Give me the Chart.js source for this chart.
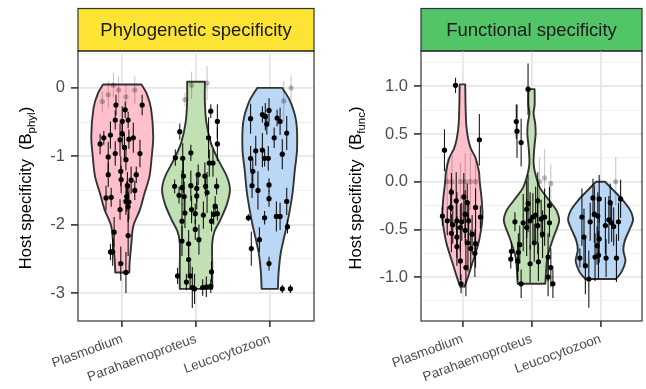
<!DOCTYPE html>
<html>
<head>
<meta charset="utf-8">
<script src="https://cdn.jsdelivr.net/npm/chart.js@4.4.1/dist/chart.umd.min.js"></script>
<style>
  html, body { margin: 0; padding: 0; background: #fff; }
  #wrap { position: relative; width: 646px; height: 389px; }
  #wrap canvas { position: absolute; top: 0; }
</style>
</head>
<body>
<div id="wrap">
  <canvas id="phyl" width="323" height="389" style="left:0"></canvas>
  <canvas id="func" width="323" height="389" style="left:323px"></canvas>
</div>
<script>
const categories = ["Plasmodium", "Parahaemoproteus", "Leucocytozoon"];

// y ticks (major get a label, minor only a grid line)
const phylMajor = [0, -1, -2, -3];
const phylMinor = [0.5, -0.5, -1.5, -2.5];
const funcMajor = [1, 0.5, 0, -0.5, -1];
const funcMinor = [1.25, 0.75, 0.25, -0.25, -0.75, -1.25];

// violin outlines: [y, half width]
const phylPlasViolin = [[0.05,0.26],[-0.08,0.33],[-0.3,0.39],[-0.71,0.42],[-1.0,0.40],[-1.29,0.37],[-1.55,0.30],[-1.78,0.24],[-2.02,0.15],[-2.32,0.12],[-2.55,0.10],[-2.70,0.095]];
const phylParaViolin = [[0.09,0.12],[-0.2,0.12],[-0.5,0.14],[-0.8,0.2],[-1.05,0.30],[-1.3,0.42],[-1.49,0.46],[-1.7,0.42],[-1.93,0.33],[-2.1,0.25],[-2.27,0.22],[-2.6,0.22],[-2.94,0.22]];
const phylLeucViolin = [[0.0,0.17],[-0.2,0.28],[-0.5,0.36],[-0.9,0.37],[-1.2,0.34],[-1.53,0.31],[-1.8,0.27],[-2.02,0.23],[-2.41,0.15],[-2.7,0.12],[-2.94,0.11]];
const funcPlasViolin = [[1.02,0.04],[0.8,0.045],[0.6,0.055],[0.46,0.08],[0.35,0.12],[0.25,0.19],[0.1,0.24],[0.0,0.25],[-0.2,0.28],[-0.37,0.29],[-0.5,0.27],[-0.65,0.23],[-0.86,0.14],[-1.0,0.08],[-1.1,0.03]];
const funcParaViolin = [[0.97,0.045],[0.8,0.045],[0.72,0.03],[0.6,0.055],[0.5,0.06],[0.35,0.04],[0.2,0.03],[0.1,0.05],[-0.06,0.12],[-0.2,0.26],[-0.3,0.36],[-0.41,0.40],[-0.58,0.32],[-0.79,0.23],[-0.95,0.21],[-1.07,0.20]];
const funcLeucViolin = [[0.0,0.065],[-0.1,0.2],[-0.2,0.33],[-0.3,0.43],[-0.4,0.47],[-0.5,0.42],[-0.62,0.35],[-0.72,0.33],[-0.83,0.36],[-0.95,0.30],[-1.02,0.22]];

// points: [jitter, estimate, error half-length]
const phylPlasFaded = [[-0.27,-0.20,0.15],[-0.19,-0.10,0.2],[-0.05,-0.03,0.2],[0.05,-0.13,0.18],[0.17,-0.03,0.2],[-0.12,0.04,0.18]];
const phylPlasPts = [[-0.085,-0.25,0.15],[0.04,-0.32,0.12],[0.27,-0.25,0.15],[-0.095,-0.47,0.14],[0.0,-0.49,0.22],[0.08,-0.47,0.12],[-0.16,-0.69,0.2],[-0.25,-0.73,0.1],[-0.30,-0.82,0.15],[-0.03,-0.76,0.24],[0.0,-0.67,0.18],[0.09,-0.75,0.14],[0.15,-0.73,0.22],[0.03,-0.87,0.2],[0.24,-0.96,0.2],[-0.19,-1.01,0.22],[-0.095,-0.96,0.18],[0.05,-1.05,0.16],[-0.02,-1.22,0.22],[-0.19,-1.27,0.18],[-0.015,-1.34,0.2],[0.19,-1.27,0.12],[0.12,-1.35,0.2],[0.07,-1.43,0.2],[0.17,-1.50,0.14],[-0.15,-1.60,0.14],[-0.22,-1.61,0.18],[0.06,-1.59,0.22],[0.09,-1.67,0.25],[0.05,-1.66,0.2],[-0.03,-1.78,0.15],[0.08,-1.74,0.22],[-0.11,-2.11,0.22],[0.08,-2.16,0.3],[-0.16,-2.40,0.12],[-0.13,-2.40,0.2],[-0.02,-2.57,0.25],[0.05,-2.70,0.3]];
const phylParaFaded = [[-0.15,-0.17,0.1],[-0.06,0.04,0.2],[0.15,0.07,0.25]];
const phylParaPts = [[0.20,-0.34,0.1],[0.29,-0.49,0.25],[-0.22,-0.64,0.12],[0.17,-0.73,0.3],[0.29,-0.82,0.25],[-0.07,-0.95,0.12],[-0.28,-1.02,0.12],[-0.18,-1.03,0.22],[0.18,-1.10,0.2],[0.23,-1.10,0.2],[-0.17,-1.29,0.25],[0.03,-1.27,0.15],[0.12,-1.29,0.2],[-0.29,-1.44,0.1],[-0.19,-1.46,0.25],[-0.07,-1.43,0.22],[0.01,-1.47,0.2],[0.13,-1.44,0.15],[0.28,-1.44,0.12],[-0.23,-1.57,0.12],[-0.16,-1.59,0.22],[0.01,-1.58,0.2],[0.15,-1.53,0.3],[0.26,-1.73,0.15],[-0.15,-1.83,0.22],[-0.06,-1.78,0.2],[-0.01,-1.84,0.15],[0.10,-1.86,0.2],[0.24,-1.85,0.15],[0.29,-1.84,0.1],[-0.19,-1.95,0.25],[0.21,-1.95,0.15],[-0.01,-2.07,0.15],[0.04,-2.22,0.22],[-0.19,-2.24,0.22],[-0.10,-2.28,0.2],[-0.10,-2.51,0.22],[-0.25,-2.75,0.12],[-0.08,-2.75,0.2],[0.21,-2.69,0.15],[-0.13,-2.84,0.12],[-0.05,-2.92,0.3],[-0.02,-2.94,0.22],[0.09,-2.92,0.12],[0.14,-2.91,0.15],[0.20,-2.90,0.1]];
const phylLeucFaded = [[0.29,0.0,0.18],[0.19,-0.19,0.3]];
const phylLeucPts = [[-0.26,-0.45,0.22],[-0.10,-0.39,0.12],[-0.06,-0.42,0.2],[-0.01,-0.33,0.18],[-0.04,-0.53,0.15],[0.10,-0.44,0.12],[0.14,-0.49,0.2],[0.23,-0.66,0.25],[0.06,-0.73,0.15],[-0.19,-0.92,0.22],[-0.10,-0.91,0.25],[-0.26,-1.03,0.18],[-0.07,-1.03,0.12],[-0.02,-1.03,0.18],[0.17,-0.97,0.22],[-0.23,-1.22,0.18],[-0.24,-1.43,0.18],[-0.16,-1.50,0.28],[-0.01,-1.42,0.1],[-0.01,-1.62,0.12],[0.23,-1.66,0.2],[-0.29,-1.90,0.05],[-0.07,-1.90,0.1],[0.09,-1.88,0.22],[0.14,-1.88,0.2],[0.24,-2.03,0.1],[-0.14,-2.22,0.18],[-0.25,-2.35,0.25],[-0.01,-2.57,0.1],[0.17,-2.94,0.06],[0.28,-2.94,0.06]];

const funcPlasFaded = [[-0.22,0.0,0.25],[-0.15,0.0,0.28],[-0.03,0.0,0.2],[0.04,0.0,0.3],[0.115,0.0,0.3],[0.19,0.0,0.22]];
const funcPlasPts = [[-0.10,1.01,0.08],[-0.26,0.33,0.22],[0.245,0.44,0.27],[-0.16,-0.11,0.2],[0.02,-0.16,0.25],[-0.09,-0.20,0.3],[0.07,-0.22,0.2],[-0.17,-0.27,0.2],[0.19,-0.27,0.2],[0.04,-0.34,0.25],[-0.29,-0.36,0.1],[0.26,-0.37,0.12],[-0.22,-0.41,0.15],[-0.08,-0.41,0.3],[-0.01,-0.42,0.2],[0.09,-0.41,0.2],[-0.14,-0.45,0.2],[-0.03,-0.48,0.25],[0.04,-0.51,0.15],[-0.16,-0.54,0.2],[0.14,-0.55,0.2],[-0.08,-0.58,0.22],[0.08,-0.64,0.3],[0.19,-0.65,0.25],[-0.08,-0.68,0.2],[0.12,-0.70,0.2],[0.18,-0.75,0.25],[-0.03,-0.83,0.2],[0.05,-0.90,0.3],[-0.02,-1.07,0.1]];
const funcParaFaded = [[0.115,0.0,0.25],[0.28,-0.02,0.2],[0.19,0.04,0.3]];
const funcParaPts = [[-0.05,0.97,0.27],[-0.22,0.63,0.18],[-0.21,0.53,0.28],[-0.15,0.41,0.25],[-0.05,-0.23,0.3],[-0.07,-0.29,0.3],[0.09,-0.20,0.3],[0.26,-0.25,0.2],[-0.24,-0.42,0.1],[-0.12,-0.43,0.3],[-0.02,-0.41,0.3],[0.02,-0.37,0.25],[0.06,-0.35,0.3],[0.14,-0.39,0.2],[0.19,-0.37,0.3],[0.26,-0.43,0.15],[-0.07,-0.48,0.3],[0.09,-0.46,0.3],[0.16,-0.55,0.25],[0.04,-0.64,0.2],[-0.17,-0.66,0.2],[-0.29,-0.73,0.1],[-0.19,-0.74,0.2],[-0.30,-0.81,0.1],[-0.20,-0.83,0.2],[-0.02,-0.86,0.2],[0.10,-0.84,0.2],[0.24,-0.79,0.25],[0.28,-0.90,0.2],[-0.15,-1.07,0.15],[0.24,-1.00,0.2],[0.31,-1.07,0.15]];
const funcLeucFaded = [[0.22,0.0,0.25]];
const funcLeucPts = [[-0.11,-0.17,0.2],[-0.02,-0.18,0.25],[0.14,-0.22,0.2],[0.29,-0.18,0.2],[-0.09,-0.34,0.3],[-0.04,-0.36,0.25],[-0.27,-0.37,0.3],[-0.15,-0.42,0.2],[0.12,-0.40,0.25],[0.16,-0.43,0.2],[0.07,-0.46,0.3],[0.26,-0.42,0.2],[0.19,-0.47,0.2],[-0.24,-0.58,0.3],[-0.02,-0.60,0.25],[-0.05,-0.67,0.2],[-0.08,-0.79,0.25],[-0.30,-0.80,0.1],[-0.03,-0.77,0.25],[0.08,-0.80,0.2],[0.23,-0.80,0.25],[-0.22,-0.88,0.3],[-0.17,-1.02,0.3]];

const violinFills = ["#FFC0CB", "#C1E0B3", "#BAD7F5"];
const FONT = '"Liberation Sans", Arial, Helvetica, sans-serif';
Chart.defaults.font.family = FONT;

// strip, frame and y title with a subscript
const panelDecor = {
  id: "panelDecor",
  beforeDraw(chart, args, opts) {
    const { ctx, chartArea: a } = chart;
    ctx.save();
    ctx.fillStyle = "#fff";
    ctx.fillRect(0, 0, chart.width, chart.height);
    ctx.fillStyle = opts.stripColor;
    ctx.fillRect(a.left, 8, a.right - a.left, a.top - 8);
    ctx.strokeStyle = "#333";
    ctx.lineWidth = 1.2;
    ctx.strokeRect(a.left, 8.5, a.right - a.left, a.top - 8.5);
    ctx.fillStyle = "#1A1A1A";
    ctx.font = "18.5px " + FONT;
    ctx.textAlign = "center";
    ctx.textBaseline = "middle";
    ctx.fillText(opts.stripText, (a.left + a.right) / 2, (8 + a.top) / 2 + 1);

    // rotated axis title
    const main = "Host specificity  (B", close = ")";
    const mainFont = "16.5px " + FONT, subFont = "11.5px " + FONT;
    ctx.font = mainFont;
    const w1 = ctx.measureText(main).width, w3 = ctx.measureText(close).width;
    ctx.font = subFont;
    const w2 = ctx.measureText(opts.sub).width;
    const total = w1 + w2 + w3;
    ctx.translate(opts.titleX, (a.top + a.bottom) / 2 + 2);
    ctx.rotate(-Math.PI / 2);
    ctx.textAlign = "left";
    ctx.textBaseline = "alphabetic";
    ctx.fillStyle = "#000";
    const x0 = -total / 2;
    ctx.font = mainFont;
    ctx.fillText(main, x0, 0);
    ctx.font = subFont;
    ctx.fillText(opts.sub, x0 + w1, 4);
    ctx.font = mainFont;
    ctx.fillText(close, x0 + w1 + w2, 0);
    ctx.restore();
  },
  afterDraw(chart) {
    const { ctx, chartArea: a } = chart;
    ctx.save();
    ctx.strokeStyle = "#333";
    ctx.lineWidth = 1.2;
    ctx.strokeRect(a.left, a.top, a.right - a.left, a.bottom - a.top);
    ctx.restore();
  }
};

// vertical error lines under the points
const errorBars = {
  id: "errorBars",
  beforeDatasetDraw(chart, args) {
    const ds = chart.data.datasets[args.index];
    if (!ds.errs) return;
    const { ctx, chartArea: a, scales: { y } } = chart;
    ctx.save();
    ctx.beginPath();
    ctx.rect(a.left, a.top, a.right - a.left, a.bottom - a.top);
    ctx.clip();
    ctx.strokeStyle = ds.barColor;
    ctx.lineWidth = 1.1;
    args.meta.data.forEach((pt, i) => {
      const d = ds.data[i];
      ctx.beginPath();
      ctx.moveTo(pt.x, y.getPixelForValue(d.y - ds.errs[i]));
      ctx.lineTo(pt.x, y.getPixelForValue(d.y + ds.errs[i]));
      ctx.stroke();
    });
    ctx.restore();
  }
};

// closed outline; tiny insets at the flat ends keep the corners sharp with tension
function violinOutline(profile, c) {
  const e = 0.004;
  const [y0, w0] = profile[0];
  const [yn, wn] = profile[profile.length - 1];
  const left = profile.map(([y, w]) => ({ x: c - w, y }));
  const right = profile.slice().reverse().map(([y, w]) => ({ x: c + w, y }));
  return [
    { x: c - w0 + e, y: y0 },
    ...left,
    { x: c - wn + e, y: yn },
    { x: c + wn - e, y: yn },
    ...right,
    { x: c + w0 - e, y: y0 },
    { x: c - w0 + e, y: y0 }
  ];
}

function pointSet(pts, c, faded) {
  return {
    data: pts.map(p => ({ x: c + p[0], y: p[1] })),
    errs: pts.map(p => p[2]),
    barColor: faded ? "rgba(0,0,0,0.22)" : "rgba(0,0,0,0.9)",
    backgroundColor: faded ? "rgba(0,0,0,0.25)" : "#000",
    borderWidth: 0,
    pointRadius: 2.6,
    showLine: false,
    order: faded ? 2 : 1
  };
}

function buildDatasets(violins, faded, pts) {
  const sets = [];
  violins.forEach((v, i) => {
    sets.push({
      data: violinOutline(v, i + 1),
      showLine: true,
      fill: "shape",
      backgroundColor: violinFills[i],
      borderColor: "#333",
      borderWidth: 1.9,
      pointRadius: 0,
      tension: 0.3,
      order: 3
    });
  });
  faded.forEach((p, i) => sets.push(pointSet(p, i + 1, true)));
  pts.forEach((p, i) => sets.push(pointSet(p, i + 1, false)));
  return sets;
}

function makeChart(id, cfg) {
  const isMajor = v => cfg.major.includes(v);
  const ticks = cfg.major.concat(cfg.minor).sort((a, b) => a - b);
  return new Chart(document.getElementById(id), {
    type: "scatter",
    data: { datasets: buildDatasets(cfg.violins, cfg.faded, cfg.pts) },
    plugins: [panelDecor, errorBars],
    options: {
      responsive: false,
      animation: false,
      events: [],
      layout: { padding: { top: 51, right: cfg.padRight, bottom: 0, left: 0 } },
      plugins: {
        legend: { display: false },
        tooltip: { enabled: false },
        panelDecor: { stripColor: cfg.stripColor, stripText: cfg.stripText, sub: cfg.sub, titleX: cfg.titleX }
      },
      scales: {
        x: {
          type: "linear",
          min: 0.4,
          max: 3.6,
          afterBuildTicks: s => { s.ticks = [1, 2, 3].map(v => ({ value: v })); },
          afterFit: s => { s.height = 68; },
          ticks: {
            callback: v => categories[v - 1],
            color: "#4D4D4D",
            font: { size: 13.5 },
            minRotation: 20,
            maxRotation: 20,
            autoSkip: false,
            padding: 4
          },
          grid: { color: "#E6E6E6", lineWidth: 1.8, tickColor: "#333", tickLength: 6, tickWidth: 1.6 },
          border: { display: false }
        },
        y: {
          min: cfg.yMin,
          max: cfg.yMax,
          afterBuildTicks: s => { s.ticks = ticks.map(v => ({ value: v })); },
          afterFit: s => { s.width = cfg.yWidth; },
          ticks: {
            callback: cfg.label,
            color: "#4D4D4D",
            font: { size: 16.5 },
            autoSkip: false,
            padding: 6
          },
          grid: {
            color: c => (c.tick && isMajor(c.tick.value)) ? "#E6E6E6" : "#EFEFEF",
            lineWidth: c => (c.tick && isMajor(c.tick.value)) ? 1.8 : 1,
            tickColor: c => (c.tick && isMajor(c.tick.value)) ? "#333" : "rgba(0,0,0,0)",
            tickLength: 7,
            tickWidth: 1.6
          },
          border: { display: false }
        }
      }
    }
  });
}

makeChart("phyl", {
  violins: [phylPlasViolin, phylParaViolin, phylLeucViolin],
  faded: [phylPlasFaded, phylParaFaded, phylLeucFaded],
  pts: [phylPlasPts, phylParaPts, phylLeucPts],
  major: phylMajor,
  minor: phylMinor,
  label: v => phylMajor.includes(v) ? String(v) : "",
  yMin: -3.41,
  yMax: 0.54,
  yWidth: 78,
  padRight: 9,
  stripColor: "#FDE333",
  stripText: "Phylogenetic specificity",
  sub: "phyl",
  titleX: 31
});

makeChart("func", {
  violins: [funcPlasViolin, funcParaViolin, funcLeucViolin],
  faded: [funcPlasFaded, funcParaFaded, funcLeucFaded],
  pts: [funcPlasPts, funcParaPts, funcLeucPts],
  major: funcMajor,
  minor: funcMinor,
  label: v => funcMajor.includes(v) ? v.toFixed(1) : "",
  yMin: -1.46,
  yMax: 1.37,
  yWidth: 98,
  padRight: 3,
  stripColor: "#53C569",
  stripText: "Functional specificity",
  sub: "func",
  titleX: 38
});
</script>
</body>
</html>
